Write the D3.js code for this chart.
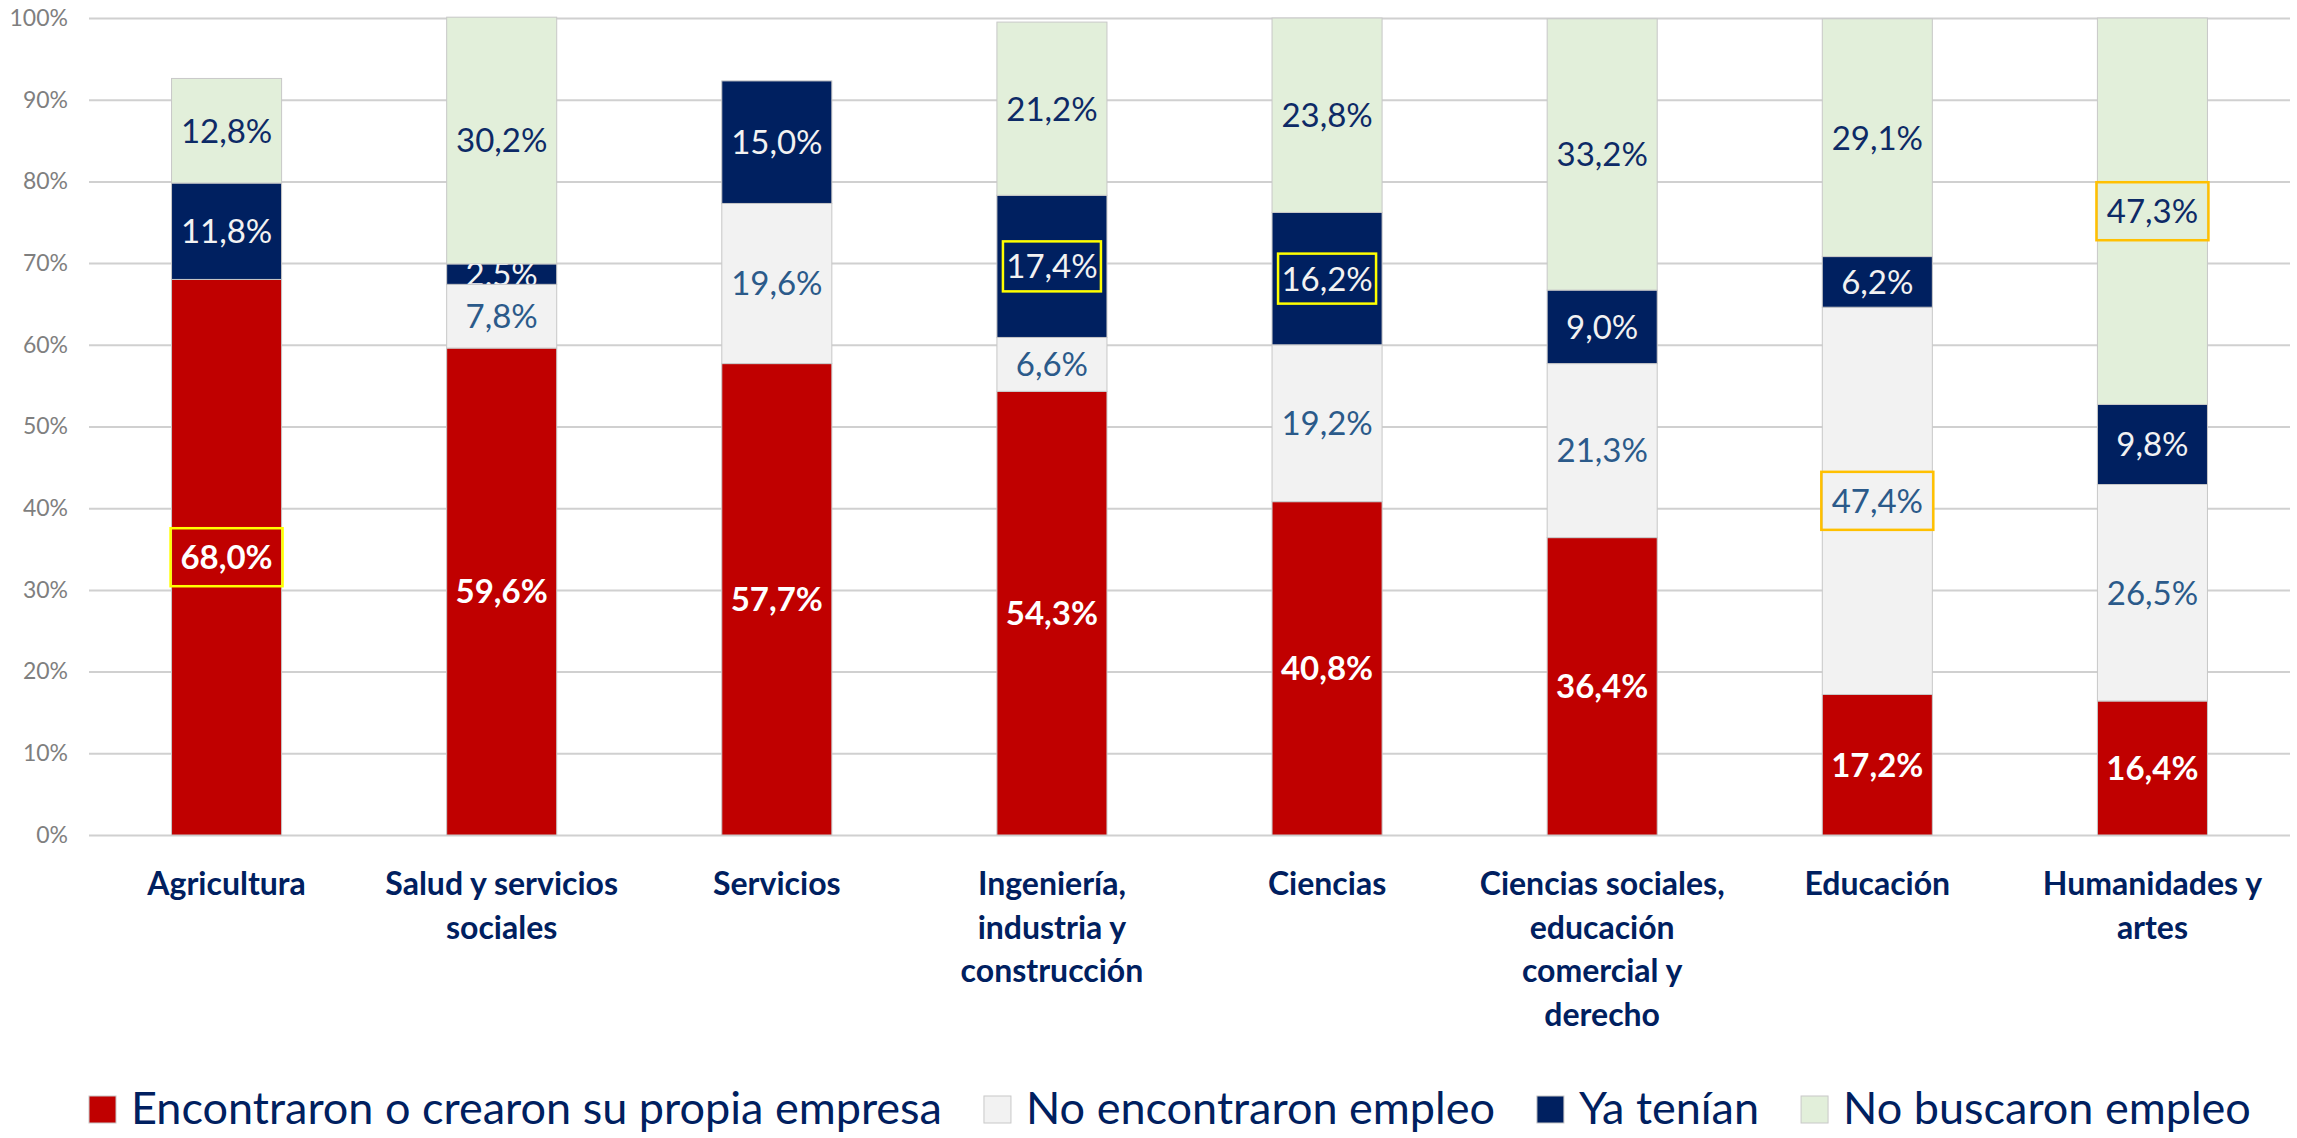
<!DOCTYPE html>
<html>
<head>
<meta charset="utf-8">
<script src="https://cdn.jsdelivr.net/npm/d3@7"></script>
<style>
  body { margin: 0; background: #fff; }
  svg { display: block; font-family: Lato, "Open Sans", sans-serif; }
</style>
</head>
<body>
<div id="chart"></div>
<script>
// datos (porcentajes)
const categories = ["Agricultura", "Salud y servicios sociales", "Servicios", "Ingeniería, industria y construcción",
    "Ciencias", "Ciencias sociales, educación comercial y derecho", "Educación", "Humanidades y artes"];
const categoryLines = [["Agricultura"], ["Salud y servicios", "sociales"], ["Servicios"],
    ["Ingeniería,", "industria y", "construcción"], ["Ciencias"],
    ["Ciencias sociales,", "educación", "comercial y", "derecho"], ["Educación"], ["Humanidades y", "artes"]];
const seriesNames = ["Encontraron o crearon su propia empresa", "No encontraron empleo", "Ya tenían", "No buscaron empleo"];
const encontraron = [68.0, 59.6, 57.7, 54.3, 40.8, 36.4, 17.2, 16.4];
const noEncontraron = [0, 7.8, 19.6, 6.6, 19.2, 21.3, 47.4, 26.5];
const yaTenian = [11.8, 2.5, 15.0, 17.4, 16.2, 9.0, 6.2, 9.8];
const noBuscaron = [12.8, 30.2, 0, 21.2, 23.8, 33.2, 29.1, 47.3];
const yTicks = [0, 10, 20, 30, 40, 50, 60, 70, 80, 90, 100];
// etiquetas resaltadas con recuadro: [serie, categoria]
const boxedYellow = [[0, 0], [2, 3], [2, 4]];
const boxedOrange = [[1, 6], [3, 7]];

const W = 2297, H = 1138;
const m = { left: 89, right: 2290, top: 18, bottom: 835 };

const fills = ["#c00000", "#f2f2f2", "#002060", "#e2efda"];
const labelColors = ["#ffffff", "#2b5a8a", "#f2f2f2", "#0d2a66"];

const svg = d3.select("#chart").append("svg")
    .attr("width", W)
    .attr("height", H);

const xScale = d3.scaleBand().domain(categories).range([m.left, m.right])
    .paddingInner(0.6).paddingOuter(0.3);
const yScale = d3.scaleLinear().domain([0, 100]).range([m.bottom, m.top]);

// gridlines + ticks
const yAxis = d3.axisLeft(yScale)
    .tickValues(yTicks)
    .tickSize(-(m.right - m.left))
    .tickPadding(21)
    .tickFormat(d => d + "%");

const gy = svg.append("g")
    .attr("transform", "translate(" + m.left + ",0)")
    .call(yAxis);
gy.select(".domain").remove();
gy.selectAll(".tick line").attr("stroke", "#d0d0d0").attr("stroke-width", 2);
gy.selectAll(".tick text")
    .attr("fill", "#7f7f7f")
    .style("font-size", "23px")
    .style("font-family", "Lato, sans-serif");

// stacked data
const keys = ["s0", "s1", "s2", "s3"];
const serieValues = [encontraron, noEncontraron, yaTenian, noBuscaron];
const rows = categories.map((c, i) => {
    let r = { cat: c };
    keys.forEach((k, j) => r[k] = serieValues[j][i]);
    return r;
});
const stacked = d3.stack().keys(keys)(rows);

const defs = svg.append("defs");

const segs = [];
stacked.forEach((s, si) => s.forEach((p, ci) => {
    if (p[1] - p[0] > 0) segs.push({ p: p, si: si, ci: ci, v: serieValues[si][ci] });
}));

svg.append("g").selectAll("rect")
    .data(segs)
    .enter().append("rect")
    .attr("x", d => xScale(categories[d.ci]))
    .attr("y", d => yScale(d.p[1]))
    .attr("width", xScale.bandwidth())
    .attr("height", d => yScale(d.p[0]) - yScale(d.p[1]))
    .attr("fill", d => fills[d.si])
    .attr("stroke", "#c8c8c8")
    .attr("stroke-width", 1);

// labels (clipped to their segment)
segs.forEach((d, i) => {
    defs.append("clipPath").attr("id", "clip" + i)
        .append("rect")
        .attr("x", xScale(categories[d.ci]) - 5)
        .attr("y", yScale(d.p[1]))
        .attr("width", xScale.bandwidth() + 10)
        .attr("height", yScale(d.p[0]) - yScale(d.p[1]));
});

const fmt = v => v.toFixed(1).replace(".", ",") + "%";

svg.append("g").selectAll("text")
    .data(segs)
    .enter().append("text")
    .attr("clip-path", (d, i) => "url(#clip" + i + ")")
    .attr("x", d => xScale(categories[d.ci]) + xScale.bandwidth() / 2)
    .attr("y", d => yScale((d.p[0] + d.p[1]) / 2))
    .attr("dy", "0.36em")
    .attr("text-anchor", "middle")
    .attr("fill", d => labelColors[d.si])
    .style("font-size", "33px")
    .style("font-weight", d => d.si === 0 ? "bold" : "normal")
    .text(d => fmt(d.v));

// highlight boxes
function drawBoxes(list, color, w, h) {
    list.forEach(([si, ci]) => {
        const p = stacked[si][ci];
        const cx = xScale(categories[ci]) + xScale.bandwidth() / 2;
        const cy = yScale((p[0] + p[1]) / 2);
        svg.append("rect")
            .attr("x", cx - w / 2)
            .attr("y", cy - h / 2)
            .attr("width", w)
            .attr("height", h)
            .attr("fill", "none")
            .attr("stroke", color)
            .attr("stroke-width", 2.5);
    });
}
drawBoxes(boxedYellow.slice(0, 1), "#ffff00", 112, 58);
drawBoxes(boxedYellow.slice(1), "#ffff00", 98, 50);
drawBoxes(boxedOrange, "#ffc000", 112, 58);

// category labels
const catG = svg.append("g").selectAll("text")
    .data(categories)
    .enter().append("text")
    .attr("text-anchor", "middle")
    .attr("fill", "#002060")
    .style("font-size", "32px")
    .style("font-weight", "bold");

catG.each(function (c, i) {
    const t = d3.select(this);
    categoryLines[i].forEach((line, j) => {
        t.append("tspan")
            .attr("x", xScale(c) + xScale.bandwidth() / 2)
            .attr("y", 895 + j * 43.5)
            .text(line);
    });
});

// legend
const legend = svg.append("g").attr("transform", "translate(89,1096)");
let lx = 0;
seriesNames.forEach((name, i) => {
    const g = legend.append("g").attr("transform", "translate(" + lx + ",0)");
    g.append("rect")
        .attr("width", 27).attr("height", 27)
        .attr("fill", fills[i])
        .attr("stroke", "#c8c8c8").attr("stroke-width", 1);
    const t = g.append("text")
        .attr("x", 42)
        .attr("y", 28)
        .attr("fill", "#002060")
        .style("font-size", "45px")
        .text(name);
    lx += 42 + t.node().getComputedTextLength() + 42;
});
</script>
</body>
</html>
